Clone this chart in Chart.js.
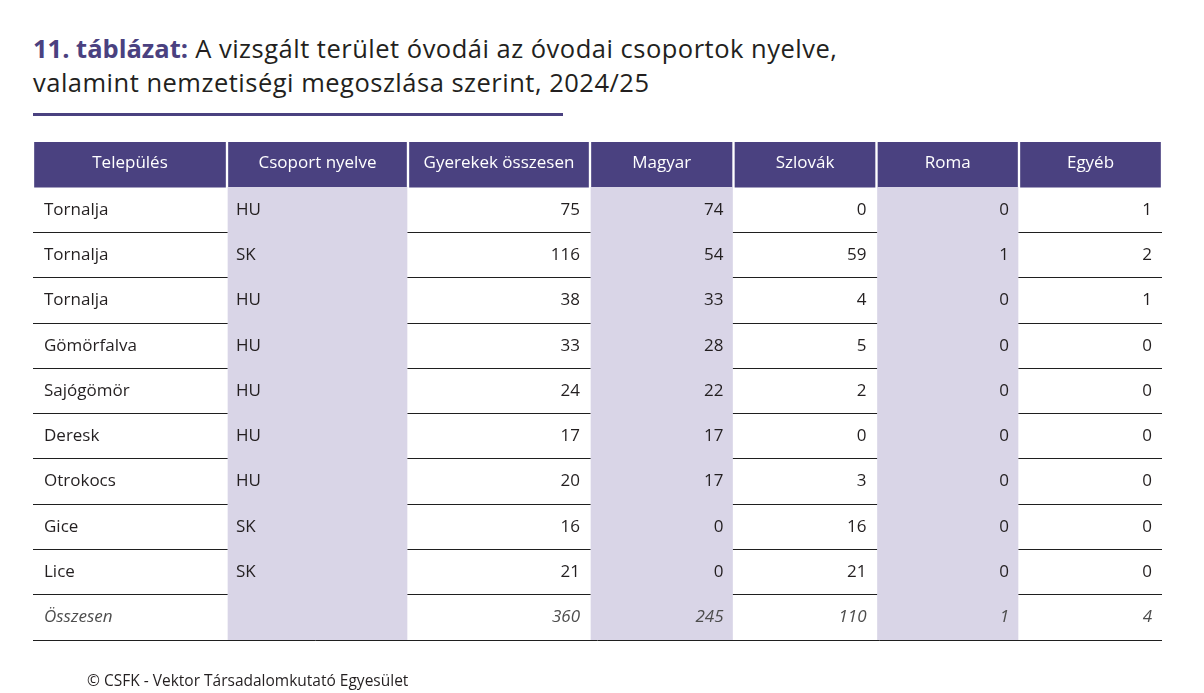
<!DOCTYPE html>
<html lang="hu">
<head>
<meta charset="utf-8">
<title>11. táblázat</title>
<script src="https://cdn.jsdelivr.net/npm/chart.js@4.4.1/dist/chart.umd.min.js"></script>
<style>
  html, body { margin: 0; padding: 0; background: #fff; }
  body { width: 1204px; height: 693px; position: relative; overflow: hidden; font-family: "Open Sans", sans-serif; color: #231f20; }
  #title { position: absolute; left: 33px; top: 31px; font-size: 25.5px; line-height: 34px; letter-spacing: 0.5px; }
  #title b { color: #4a4180; font-weight: 700; letter-spacing: 0; }
  #rule { position: absolute; left: 33px; top: 113px; width: 530px; height: 3px; background: #4a4180; }
  #tableWrap { position: absolute; left: 0; top: 0; width: 1204px; height: 693px; }
  #footer { position: absolute; left: 87px; top: 670px; font-size: 15.5px; line-height: 20px; }
</style>
</head>
<body>
<div id="title"><b>11. táblázat:</b> A vizsgált terület óvodái az óvodai csoportok nyelve,<br>valamint nemzetiségi megoszlása szerint, 2024/25</div>
<div id="rule"></div>
<div id="tableWrap"><canvas id="table"></canvas></div>
<div id="footer">© CSFK - Vektor Társadalomkutató Egyesület</div>
<script>
const columns = ['Település', 'Csoport nyelve', 'Gyerekek összesen', 'Magyar', 'Szlovák', 'Roma', 'Egyéb'];
const settlements = ['Tornalja', 'Tornalja', 'Tornalja', 'Gömörfalva', 'Sajógömör', 'Deresk', 'Otrokocs', 'Gice', 'Lice'];
const groupLanguage = ['HU', 'SK', 'HU', 'HU', 'HU', 'HU', 'HU', 'SK', 'SK'];
const childrenTotal = [75, 116, 38, 33, 24, 17, 20, 16, 21];
const hungarian = [74, 54, 33, 28, 22, 17, 17, 0, 0];
const slovak = [0, 59, 4, 5, 2, 0, 3, 16, 21];
const roma = [0, 1, 0, 0, 0, 0, 0, 0, 0];
const other = [1, 2, 1, 0, 0, 0, 0, 0, 0];
const totalLabel = 'Összesen';
const totals = [360, 245, 110, 1, 4];

// layout: column edges in pixels from the table's left side
const colEdges = [0, 194, 375, 557, 700.5, 843.5, 986, 1129];
const shadedCols = [1, 3, 5];
const purple = '#4a4180';
const lavender = '#d9d5e7';

const bodyColumns = [settlements, groupLanguage, childrenTotal, hungarian, slovak, roma, other];
const rowKeys = ['head'].concat(settlements.map((s, i) => 'r' + i), ['total']);

const headerBars = columns.map((c, i) => ({ y: rowKeys[0], x: [colEdges[i] + 1.5, colEdges[i + 1] - 1.5] }));
const shadeBars = [];
shadedCols.forEach(c => {
  rowKeys.slice(1).forEach(k => {
    shadeBars.push({ y: k, x: [colEdges[c] + 1, colEdges[c + 1] - 1] });
  });
});

const cellText = {
  id: 'cellText',
  afterDatasetsDraw(chart) {
    const { ctx, scales: { x, y } } = chart;
    ctx.save();
    ctx.textBaseline = 'middle';

    ctx.font = '17px "Open Sans"';
    ctx.fillStyle = '#ffffff';
    ctx.textAlign = 'center';
    columns.forEach((c, i) => {
      const cx = (x.getPixelForValue(colEdges[i]) + x.getPixelForValue(colEdges[i + 1])) / 2;
      ctx.fillText(c, cx, y.getPixelForValue(0) - 1);
    });

    ctx.fillStyle = '#231f20';
    settlements.forEach((s, r) => {
      const cy = y.getPixelForValue(r + 1);
      bodyColumns.forEach((col, c) => {
        if (c < 2) {
          ctx.textAlign = 'left';
          ctx.fillText(col[r], x.getPixelForValue(colEdges[c]) + (c === 0 ? 11 : 9), cy);
        } else {
          ctx.textAlign = 'right';
          ctx.fillText(String(col[r]), x.getPixelForValue(colEdges[c + 1]) - 10, cy);
        }
      });
    });

    const ty = y.getPixelForValue(rowKeys.length - 1);
    ctx.font = 'italic 17px "Open Sans"';
    ctx.fillStyle = '#4d4d4d';
    ctx.textAlign = 'left';
    ctx.fillText(totalLabel, x.getPixelForValue(colEdges[0]) + 11, ty);
    ctx.textAlign = 'right';
    totals.forEach((v, i) => {
      ctx.fillText(String(v), x.getPixelForValue(colEdges[i + 3]) - 10, ty);
    });
    ctx.restore();
  }
};

new Chart(document.getElementById('table'), {
  type: 'bar',
  data: {
    labels: rowKeys,
    datasets: [
      { label: 'shade', data: shadeBars, backgroundColor: lavender },
      { label: 'header', data: headerBars, backgroundColor: purple }
    ]
  },
  options: {
    indexAxis: 'y',
    responsive: true,
    maintainAspectRatio: false,
    animation: false,
    grouped: false,
    barPercentage: 1,
    categoryPercentage: 1,
    borderWidth: 0,
    layout: { padding: { left: 33, right: 42, top: 142, bottom: 53 } },
    plugins: { legend: { display: false }, tooltip: { enabled: false } },
    scales: {
      x: { type: 'linear', min: 0, max: 1129, display: false },
      y: {
        type: 'category',
        offset: true,
        z: 1,
        ticks: { display: false },
        border: { display: false },
        grid: {
          offset: true,
          drawTicks: false,
          lineWidth: 1,
          color: ctx => (ctx.type === 'tick' && ctx.index < 2) ? 'rgba(0,0,0,0)' : '#1f1f1f'
        },
        afterFit: s => { s.width = 0; }
      }
    }
  },
  plugins: [cellText]
});
</script>
</body>
</html>
